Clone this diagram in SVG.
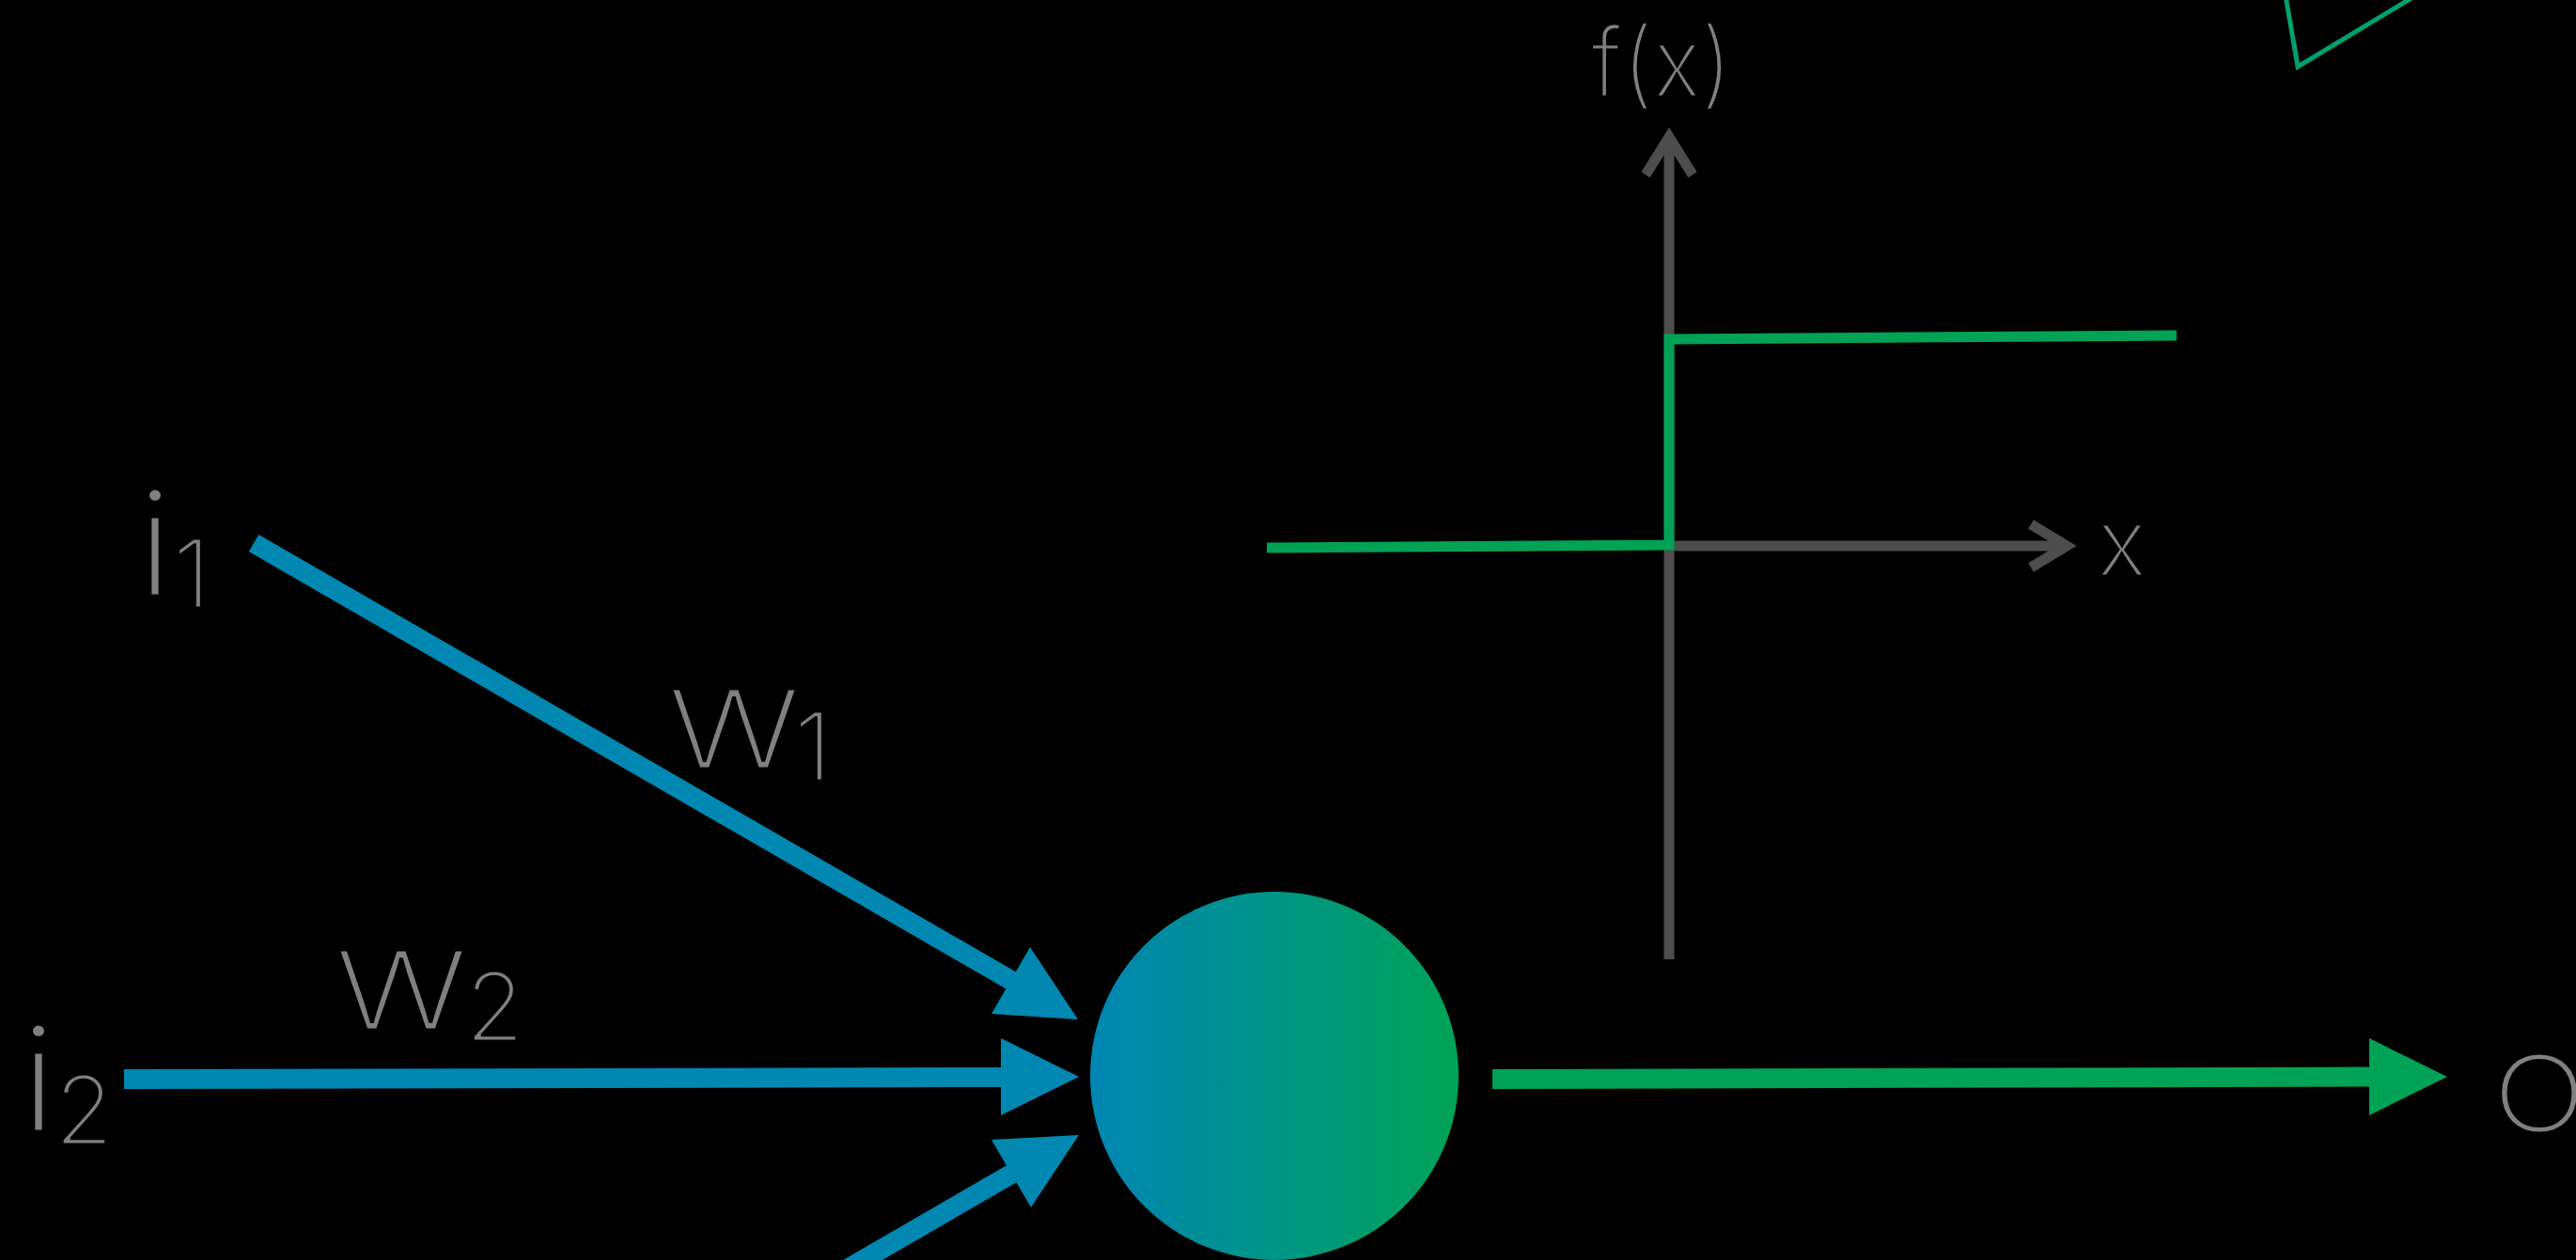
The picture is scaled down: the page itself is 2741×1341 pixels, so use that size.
<svg xmlns="http://www.w3.org/2000/svg" width="2741" height="1341" viewBox="0 0 2741 1341">
  <defs>
    <linearGradient id="neuronGrad" x1="0" y1="0" x2="1" y2="0">
      <stop offset="0" stop-color="#0086B4"/>
      <stop offset="1" stop-color="#00A357"/>
    </linearGradient>
    <style>
      .lbl { font-family: Inter, "Open Sans", "Liberation Sans", sans-serif; font-weight: 300; fill: #808080; stroke: #000000; stroke-width: 3; }
      .blue { stroke: #0088B3; stroke-width: 21; fill: none; }
      .bluehead { fill: #0088B3; }
      .green { stroke: #00A256; stroke-width: 21; fill: none; }
      .greenhead { fill: #00A256; }
      .axis { stroke: #4D4D4D; stroke-width: 11; fill: none; }
      .step { stroke: #00A256; stroke-width: 11; fill: none; }
    </style>
  </defs>
  <rect x="0" y="0" width="2741" height="1341" fill="#000000"/>

  <g id="connectors">
    <g id="edge-i1">
      <line class="blue" x1="270" y1="578" x2="1082" y2="1047"/>
      <polygon class="bluehead" points="1147,1085 1096,1008 1055,1079"/>
    </g>
    <g id="edge-i2">
      <line class="blue" x1="132" y1="1148.5" x2="1068" y2="1146.5"/>
      <polygon class="bluehead" points="1148,1146 1065,1105 1065,1187"/>
    </g>
    <g id="edge-i3">
      <line class="blue" x1="830" y1="1392" x2="1082" y2="1246"/>
      <polygon class="bluehead" points="1148,1208 1055,1213 1097,1285"/>
    </g>
    <g id="edge-out">
      <line class="green" x1="1588" y1="1148.5" x2="2524" y2="1146"/>
      <polygon class="greenhead" points="2604,1146 2521,1105 2521,1187"/>
    </g>
  </g>

  <g id="neuron">
    <circle cx="1356" cy="1145" r="196" fill="url(#neuronGrad)"/>
  </g>

  <g id="label-i1">
    <text class="lbl" x="147" y="634" font-size="154">i<tspan x="184" y="647" font-size="102">1</tspan></text>
  </g>
  <g id="label-i2">
    <text class="lbl" x="23" y="1204" font-size="154">i<tspan x="58" y="1218" font-size="102">2</tspan></text>
  </g>
  <g id="label-w1">
    <text class="lbl" x="710" y="818" font-size="117"><tspan textLength="142" lengthAdjust="spacingAndGlyphs">W</tspan><tspan x="845" y="831" font-size="102">1</tspan></text>
  </g>
  <g id="label-w2">
    <text class="lbl" x="356" y="1096" font-size="117"><tspan textLength="142" lengthAdjust="spacingAndGlyphs">W</tspan><tspan x="495" y="1108" font-size="102">2</tspan></text>
  </g>
  <g id="label-o">
    <text class="lbl" x="2652" y="1205" font-size="114" textLength="100" lengthAdjust="spacingAndGlyphs">O</text>
  </g>

  <g id="activation-graph">
    <polyline class="axis" points="1751,186 1776,146 1801,186"/>
    <line class="axis" x1="1776" y1="150" x2="1776" y2="1021"/>
    <line class="axis" x1="1776" y1="581" x2="2196" y2="581"/>
    <polyline class="axis" points="2161,558 2199,581 2161,604"/>
    <polyline class="step" points="1348,583 1776,580 1776,361 2316,357"/>
    <text class="lbl" x="1693" y="103" font-size="103" textLength="150" lengthAdjust="spacingAndGlyphs">f(x)</text>
    <text class="lbl" x="2231" y="613" font-size="101">x</text>
  </g>

  <g id="corner-shape">
    <polyline points="2431,-10 2445,71 2579,-10" fill="none" stroke="#00A070" stroke-width="5"/>
  </g>
</svg>
